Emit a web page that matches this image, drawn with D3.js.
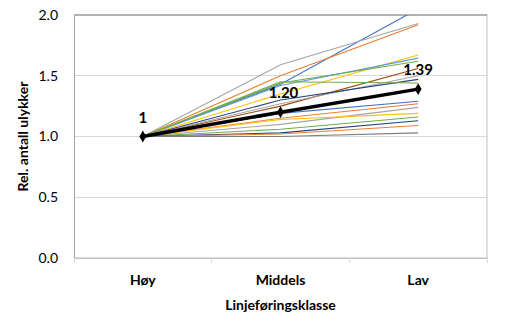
<!DOCTYPE html>
<html>
<head>
<meta charset="utf-8">
<script src="https://cdn.jsdelivr.net/npm/d3@7"></script>
<style>
  html, body { margin: 0; padding: 0; background: #fff; }
  svg { display: block; font-family: Lato, "Open Sans", sans-serif; }
</style>
</head>
<body>
<svg id="chart" width="514" height="330"></svg>
<script>
// Alignment classes (x axis)
const categories = ["Høy", "Middels", "Lav"];

// Relative accident counts per road sample, indexed to 1 at "Høy"
const seriesValues = [
  [1, 1.43, 2.05],
  [1, 1.59, 1.93],
  [1, 1.50, 1.92],
  [1, 1.35, 1.67],
  [1, 1.42, 1.645],
  [1, 1.44, 1.62],
  [1, 1.25, 1.56],
  [1, 1.27, 1.50],
  [1, 1.30, 1.47],
  [1, 1.45, 1.44],
  [1, 1.19, 1.29],
  [1, 1.15, 1.27],
  [1, 1.10, 1.24],
  [1, 1.14, 1.19],
  [1, 1.06, 1.16],
  [1, 1.03, 1.13],
  [1, 1.02, 1.09],
  [1, 1.00, 1.03]
];
const seriesColors = [
  "#4472C4", "#A5A5A5", "#ED7D31", "#FFC000", "#5B9BD5", "#70AD47",
  "#9E480E", "#A5A5A5", "#264478", "#70AD47",
  "#4472C4", "#ED7D31", "#A5A5A5", "#FFC000", "#70AD47", "#264478",
  "#ED7D31", "#7F7F7F"
];

// Average across all samples
const meanValues = [1, 1.20, 1.39];
const meanLabels = ["1", "1.20", "1.39"];

const yTicks = [0, 0.5, 1.0, 1.5, 2.0];

const plot = { left: 74, right: 487, top: 15, bottom: 258 };

const svg = d3.select("#chart");

const x = d3.scaleBand().domain(categories).range([plot.left, plot.right]).padding(0);
const xc = d => x(d) + x.bandwidth() / 2;
const y = d3.scaleLinear().domain([0, 2]).range([plot.bottom, plot.top]);

// Horizontal gridlines
svg.append("g")
  .selectAll("line")
  .data(yTicks.filter(t => t > 0 && t < 2))
  .join("line")
  .attr("x1", plot.left).attr("x2", plot.right)
  .attr("y1", d => y(d)).attr("y2", d => y(d))
  .attr("stroke", "#D9D9D9").attr("stroke-width", 1)
  .attr("shape-rendering", "crispEdges");

// Plot area frame
svg.append("rect")
  .attr("x", plot.left + 0.5).attr("y", plot.top)
  .attr("width", plot.right - plot.left - 0.5).attr("height", plot.bottom - plot.top)
  .attr("fill", "none").attr("stroke", "#BFBFBF").attr("stroke-width", 1);
svg.append("line")
  .attr("x1", plot.left).attr("x2", plot.right)
  .attr("y1", y(2)).attr("y2", y(2))
  .attr("stroke", "#B3B3B3").attr("stroke-width", 2);

// Y axis
const yAxis = d3.axisLeft(y).tickValues(yTicks).tickFormat(d3.format(".1f")).tickSize(0).tickPadding(16);
const gy = svg.append("g").attr("transform", `translate(${plot.left},0)`).call(yAxis);
gy.select(".domain").attr("stroke", "#A6A6A6");
gy.selectAll("text").attr("font-size", 14).attr("fill", "#000").attr("font-family", "Lato, sans-serif");

// X axis with tick marks on category boundaries
const xAxis = d3.axisBottom(x).tickSize(0).tickPadding(17);
const gx = svg.append("g").attr("transform", `translate(0,${plot.bottom})`).call(xAxis);
gx.select(".domain").attr("stroke", "#BFBFBF");
gx.selectAll("text").attr("font-size", 14).attr("font-weight", "bold").attr("fill", "#000")
  .attr("font-family", "Lato, sans-serif");
svg.append("g")
  .selectAll("line")
  .data(categories.map(c => x(c)).concat([plot.right]))
  .join("line")
  .attr("x1", d => d).attr("x2", d => d)
  .attr("y1", plot.bottom).attr("y2", plot.bottom + 5)
  .attr("stroke", "#D9D9D9").attr("shape-rendering", "crispEdges");

// Clip lines to the plot area
svg.append("clipPath").attr("id", "plotClip")
  .append("rect")
  .attr("x", plot.left).attr("y", plot.top)
  .attr("width", plot.right - plot.left).attr("height", plot.bottom - plot.top);

const line = d3.line().x((d, i) => xc(categories[i])).y(d => y(d));

svg.append("g").attr("clip-path", "url(#plotClip)")
  .selectAll("path")
  .data(seriesValues)
  .join("path")
  .attr("d", d => line(d))
  .attr("fill", "none")
  .attr("stroke", (d, i) => seriesColors[i])
  .attr("stroke-width", 1.1);

// Mean line with diamond markers
svg.append("path")
  .attr("d", line(meanValues))
  .attr("fill", "none")
  .attr("stroke", "#000")
  .attr("stroke-width", 3.5)
  .attr("stroke-linejoin", "round");

svg.append("g")
  .selectAll("path")
  .data(meanValues)
  .join("path")
  .attr("d", d3.symbol().type(d3.symbolDiamond).size(40))
  .attr("transform", (d, i) => `translate(${xc(categories[i])},${y(d)})`)
  .attr("fill", "#000");

// Data labels
const labelDx = [0, 3, 0];
svg.append("g")
  .selectAll("text")
  .data(meanValues)
  .join("text")
  .attr("x", (d, i) => xc(categories[i]) + labelDx[i])
  .attr("y", d => y(d) - 14)
  .attr("text-anchor", "middle")
  .attr("font-size", 15)
  .attr("font-weight", "bold")
  .attr("fill", "#000")
  .text((d, i) => meanLabels[i]);

// Axis titles
svg.append("text")
  .attr("x", (plot.left + plot.right) / 2)
  .attr("y", 310)
  .attr("text-anchor", "middle")
  .attr("font-size", 14)
  .attr("font-weight", "bold")
  .text("Linjeføringsklasse");

svg.append("text")
  .attr("transform", `translate(28,${(plot.top + plot.bottom) / 2}) rotate(-90)`)
  .attr("text-anchor", "middle")
  .attr("font-size", 14)
  .attr("font-weight", "bold")
  .text("Rel. antall ulykker");
</script>
</body>
</html>
